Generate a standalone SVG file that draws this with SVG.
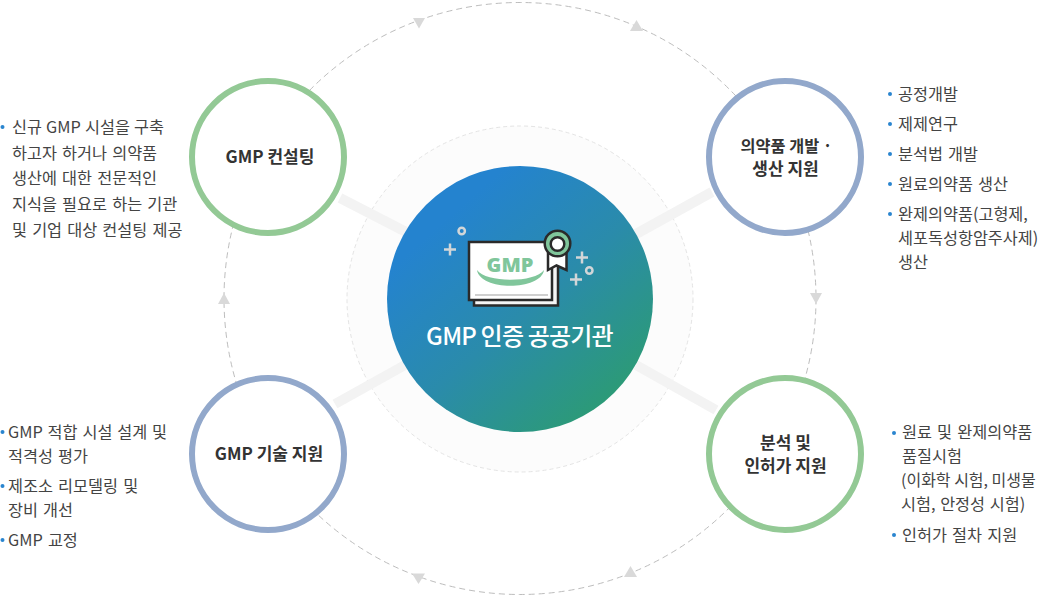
<svg xmlns="http://www.w3.org/2000/svg" width="1040" height="597" viewBox="0 0 1040 597">
<style>
text{font-family:"Noto Sans CJK KR","Noto Sans",sans-serif}
.t{font-size:16.3px;fill:#444;word-spacing:1.5px}
.n{font-size:17px;font-weight:700;fill:#333;text-anchor:middle}
.b{fill:#2a85cf}
.node{fill:#fff;stroke-width:6}
.g{stroke:#93c995}
.p{stroke:#92a8cb}
.tri{fill:#d9d9d9}
.spoke{stroke:#f3f3f3;stroke-width:10;fill:none}
.deco{fill:none;stroke:#d2d6d8;stroke-width:2.500}
</style>
<defs>
<linearGradient id="grad" x1="0.22" y1="0.2" x2="0.82" y2="0.88">
<stop offset="0" stop-color="#2483cf"/>
<stop offset="0.5" stop-color="#2a8bab"/>
<stop offset="1" stop-color="#2c9a78"/>
</linearGradient>
</defs>
<circle cx="520" cy="299" r="173" fill="#fcfcfc" stroke="#e4e4e4" stroke-dasharray="4 3"/>
<g id="connectors">
<circle cx="520" cy="298.500" r="296" fill="none" stroke="#bdbdbd" stroke-dasharray="6 4"/>
<path class="tri" d="M413 18h12l-6 10.500z"/>
<path class="tri" d="M636.500 20l6.500 11h-13z"/>
<path class="tri" d="M810 293h12l-6 11z"/>
<path class="tri" d="M630.500 566l6.500 11h-13z"/>
<path class="tri" d="M412 573.500h13l-6.500 10.500z"/>
<path class="tri" d="M224 293l6 11h-12z"/>
<path class="spoke" d="M340 198L410 234"/>
<path class="spoke" d="M712 192L636 234"/>
<path class="spoke" d="M335 404L405 365"/>
<path class="spoke" d="M716 410L636 365"/>
</g>
<g id="center">
<circle cx="520" cy="299" r="133" fill="url(#grad)"/>
<g id="cert">
<path d="M474 250h84v55.500h-84z" fill="#f5f5f5" stroke="#2a2a2a" stroke-width="2.500"/>
<path d="M469 242h83v58h-83z" fill="#fff" stroke="#2a2a2a" stroke-width="2.500"/>
<path d="M475 295h73" stroke="#cfcfcf" stroke-width="2"/>
<path d="M477 270C480 291 541 291 544 270C535 283 486 283 477 270z" fill="#80c69b"/>
<text x="510" y="272" font-size="20" font-weight="800" fill="#80c69b" text-anchor="middle" style="font-family:'Open Sans','Noto Sans',sans-serif">GMP</text>
<path d="M548 250v20l8.500-4.500 10 4.500v-18z" fill="#fff" stroke="#2a2a2a" stroke-width="2.500"/>
<circle cx="557.500" cy="243.500" r="12.800" fill="#80c69b" stroke="#2a2a2a" stroke-width="2.500"/>
<circle cx="557.500" cy="244" r="6.800" fill="#fff" stroke="#2a2a2a" stroke-width="2.500"/>
<circle class="deco" cx="461.700" cy="231" r="3.200"/>
<circle class="deco" cx="589.300" cy="270.500" r="3.200"/>
<path class="deco" d="M444 249.500h12M450 243.500v12M576 257.500h12M582 251.500v12M570 279.500h12M576 273.500v12"/>
</g>
<text x="519.500" y="345" font-size="24" font-weight="500" fill="#fff" text-anchor="middle" letter-spacing="-.8">GMP 인증 공공기관</text>
</g>
<g id="node1"><circle class="node g" cx="268" cy="157" r="76"/><text class="n" x="270" y="163">GMP 컨설팅</text></g>
<g id="node2"><circle class="node p" cx="785" cy="157" r="76"/><text class="n" x="786.500" y="151.500" style="font-size:16.300px">의약품 개발 ·</text><text class="n" x="785.500" y="175">생산 지원</text></g>
<g id="node3"><circle class="node p" cx="268" cy="454" r="76"/><text class="n" x="269" y="460">GMP 기술 지원</text></g>
<g id="node4"><circle class="node g" cx="785" cy="454" r="76"/><text class="n" x="785.500" y="448.500">분석 및</text><text class="n" x="785.500" y="472">인허가 지원</text></g>
<g id="notes1">
<circle class="b" cx="2.500" cy="127" r="2"/>
<text class="t" x="12" y="132.500" style="word-spacing:.5px">신규 GMP 시설을 구축</text>
<text class="t" x="12" y="158.500">하고자 하거나 의약품</text>
<text class="t" x="12" y="184">생산에 대한 전문적인</text>
<text class="t" x="12" y="210">지식을 필요로 하는 기관</text>
<text class="t" x="12" y="236">및 기업 대상 컨설팅 제공</text>
</g>
<g id="notes2">
<circle class="b" cx="890" cy="94" r="2"/><text class="t" x="898" y="99.500">공정개발</text>
<circle class="b" cx="890" cy="124" r="2"/><text class="t" x="898" y="129.500">제제연구</text>
<circle class="b" cx="890" cy="154" r="2"/><text class="t" x="898" y="159.500">분석법 개발</text>
<circle class="b" cx="890" cy="184" r="2"/><text class="t" x="898" y="189.500">원료의약품 생산</text>
<circle class="b" cx="890" cy="214" r="2"/><text class="t" x="898" y="219.500">완제의약품(고형제,</text>
<text class="t" x="898" y="243.500">세포독성항암주사제)</text>
<text class="t" x="898" y="267.500">생산</text>
</g>
<g id="notes3">
<circle class="b" cx="2.500" cy="432" r="2"/><text class="t" x="8" y="437.500" style="word-spacing:1.200px">GMP 적합 시설 설계 및</text>
<text class="t" x="8" y="461.500">적격성 평가</text>
<circle class="b" cx="2.500" cy="486" r="2"/><text class="t" x="8" y="491.500">제조소 리모델링 및</text>
<text class="t" x="8" y="515.500">장비 개선</text>
<circle class="b" cx="2.500" cy="540" r="2"/><text class="t" x="8" y="545.500">GMP 교정</text>
</g>
<g id="notes4">
<circle class="b" cx="894" cy="433" r="2"/><text class="t" x="902" y="438">원료 및 완제의약품</text>
<text class="t" x="902" y="462">품질시험</text>
<text class="t" x="901" y="486" style="font-size:16px;word-spacing:0">(이화학 시험, 미생물</text>
<text class="t" x="901" y="510" style="word-spacing:1px">시험, 안정성 시험)</text>
<circle class="b" cx="894" cy="535" r="2"/><text class="t" x="902" y="540.500">인허가 절차 지원</text>
</g>
</svg>
